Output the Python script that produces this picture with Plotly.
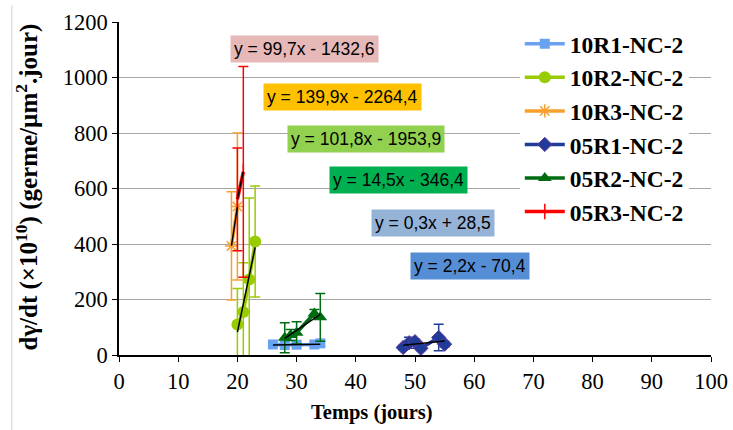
import plotly.graph_objects as go

# ---------------- data ----------------
series_names = ["10R1-NC-2", "10R2-NC-2", "10R3-NC-2", "05R1-NC-2", "05R2-NC-2", "05R3-NC-2"]

x_10R1 = [26, 28, 30, 33, 34]
y_10R1 = [38, 36, 37, 38, 42]
e_10R1 = [6, 6, 6, 6, 8]

x_10R2 = [20, 21, 22, 23]
y_10R2 = [110, 155, 272, 409]
e_10R2 = [130, 177, 294, 200]

x_10R3 = [19, 20]
y_10R3 = [393, 535]
e_10R3 = [195, 265]

x_05R1 = [48, 49, 50, 51, 54, 55]
y_05R1 = [27, 44, 48, 24, 63, 39]
e_05R1 = [8, 20, 10, 8, 48, 10]

x_05R2 = [28, 29, 30, 33, 34]
y_05R2 = [62, 72, 80, 150, 136]
e_05R2 = [54, 20, 40, 14, 86]

x_05R3 = [20, 21]
y_05R3 = [561, 660]
e_05R3 = [185, 380]

# trend line coefficients (slope, intercept) and labels
trend_slope = [0.3, 101.8, 139.9, 2.2, 14.5, 99.7]
trend_inter = [28.5, -1953.9, -2264.4, -70.4, -346.4, -1432.6]
trend_label = ["y = 0,3x + 28,5", "y = 101,8x - 1953,9", "y = 139,9x - 2264,4",
               "y = 2,2x - 70,4", "y = 14,5x - 346,4", "y = 99,7x - 1432,6"]

x_ticks = [0, 10, 20, 30, 40, 50, 60, 70, 80, 90, 100]
y_ticks = [0, 200, 400, 600, 800, 1000, 1200]

x_title = "<b>Temps (jours)</b>"
y_title = "<b>dγ/dt (×10<sup>10</sup>) (germe/µm<sup>2</sup>.jour)</b>"

# ---------------- styles ----------------
xs = [x_10R1, x_10R2, x_10R3, x_05R1, x_05R2, x_05R3]
ys = [y_10R1, y_10R2, y_10R3, y_05R1, y_05R2, y_05R3]
es = [e_10R1, e_10R2, e_10R3, e_05R1, e_05R2, e_05R3]
colors = ["#6AA2F2", "#99CC00", "#F7A02E", "#1F3C98", "#006C12", "#FF0000"]
symbols = ["square", "circle", "asterisk-open", "diamond", "triangle-up", "line-ns-open"]
msizes = [10, 12, 11, 11, 12, 11]
mline = [dict(width=0), dict(width=0), dict(width=1.5, color=colors[2]),
         dict(width=1, color="#6A3A9A"), dict(width=0), dict(width=1.5, color=colors[5])]
label_bg = ["#95B3D7", "#92D050", "#FFC000", "#558ED5", "#00B050", "#E6B8B7"]
# label box centres (data coords)
label_pos = [(53.1, 474), (41.7, 778), (37.8, 931), (59.3, 322), (47.2, 631), (31.25, 1104)]

fig = go.Figure()

for i in range(6):
    fig.add_trace(go.Scatter(
        x=xs[i], y=ys[i], name=series_names[i], mode="lines+markers",
        line=dict(color=colors[i], width=3.5),
        marker=dict(symbol=symbols[i], size=msizes[i], color=colors[i], line=mline[i]),
        error_y=dict(type="data", array=es[i], color=colors[i], thickness=1.5, width=5),
    ))

for i in range(6):
    x0, x1 = min(xs[i]), max(xs[i])
    fig.add_trace(go.Scatter(
        x=[x0, x1], y=[trend_slope[i] * x0 + trend_inter[i], trend_slope[i] * x1 + trend_inter[i]],
        mode="lines", line=dict(color="black", width=1.5), showlegend=False, hoverinfo="skip"))

for i in range(6):
    fig.add_annotation(x=label_pos[i][0], y=label_pos[i][1], xref="x", yref="y",
                       text=trend_label[i], showarrow=False,
                       font=dict(family="Liberation Sans", size=17.5, color="black"),
                       bgcolor=label_bg[i], borderpad=3)

serif = "Liberation Serif"

# axis titles as annotations (precise placement)
fig.add_annotation(x=0.427, y=-0.172, xref="paper", yref="paper", text=x_title, showarrow=False,
                   font=dict(family=serif, size=20.5, color="black"), xanchor="center", yanchor="middle")
fig.add_annotation(x=-0.1554, y=0.503, xref="paper", yref="paper", text=y_title, showarrow=False,
                   textangle=-90, font=dict(family=serif, size=25, color="black"),
                   xanchor="center", yanchor="middle")

fig.update_layout(
    width=733, height=430,
    margin=dict(l=119, r=22, t=22, b=74.5, autoexpand=False),
    paper_bgcolor="white", plot_bgcolor="white",
    font=dict(family=serif, color="black"),
    xaxis=dict(range=[0, 100], tickvals=x_ticks, showgrid=False, zeroline=False, automargin=False,
               showline=True, linecolor="black", linewidth=1.5,
               ticks="outside", ticklen=5, tickcolor="black",
               tickfont=dict(family=serif, size=22.5)),
    yaxis=dict(range=[0, 1200], tickvals=y_ticks, showgrid=True, gridcolor="#A6A6A6", gridwidth=1.3,
               zeroline=False, showline=True, linecolor="black", linewidth=1.5, automargin=False,
               ticks="outside", ticklen=5, tickcolor="black",
               tickfont=dict(family=serif, size=22.5)),
    legend=dict(x=0.677, y=1.0, xanchor="left", yanchor="top", bgcolor="white",
                font=dict(family=serif, size=23.5, color="black", weight="bold"), tracegroupgap=0,
                itemwidth=40),
    showlegend=True,
)

fig.add_shape(type="line", xref="paper", yref="paper", x0=-0.181, x1=-0.181, y0=-0.25, y1=1.05,
              line=dict(color="#D0D0D0", width=1))

fig.write_html("out.html", config={"displayModeBar": False},
               post_script="document.body.style.margin='0';document.body.style.overflow='hidden';")
